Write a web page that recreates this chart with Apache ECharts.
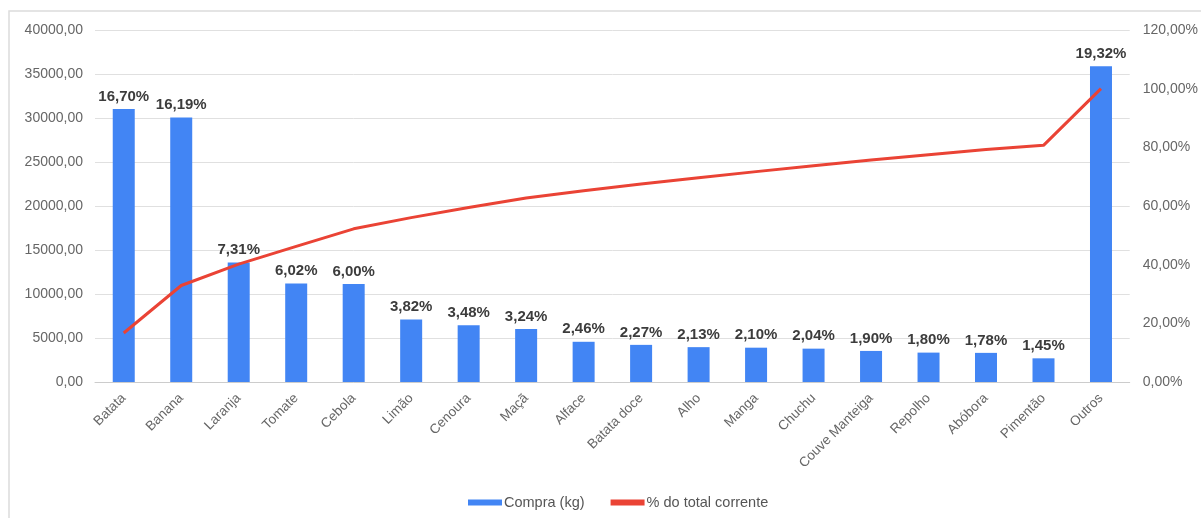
<!DOCTYPE html>
<html>
<head>
<meta charset="utf-8">
<script src="https://cdn.jsdelivr.net/npm/echarts@6/dist/echarts.min.js"></script>
<style>
html,body{margin:0;padding:0;background:#fff;}
#c{width:1201px;height:518px;}
</style>
</head>
<body>
<div id="c"></div>
<script>
const categories = ["Batata","Banana","Laranja","Tomate","Cebola","Limão","Cenoura","Maçã","Alface","Batata doce","Alho","Manga","Chuchu","Couve Manteiga","Repolho","Abóbora","Pimentão","Outros"];
const compraKg = [31010,30060,13570,11180,11140,7090,6460,6020,4570,4220,3960,3900,3790,3530,3340,3310,2690,35880];
const sharePct = [16.70,16.19,7.31,6.02,6.00,3.82,3.48,3.24,2.46,2.27,2.13,2.10,2.04,1.90,1.80,1.78,1.45,19.32];
const cumulativePct = [16.70,32.89,40.20,46.22,52.22,56.04,59.52,62.76,65.22,67.49,69.62,71.72,73.76,75.66,77.46,79.24,80.69,100.00];

const fmt = (v, d) => v.toFixed(d).replace('.', ',');
const chart = echarts.init(document.getElementById('c'), null, {renderer:'canvas'});
chart.setOption({
  animation:false,
  textStyle:{fontFamily:'Liberation Sans, Arial, sans-serif'},
  graphic:[{type:'rect', shape:{x:9,y:11,width:1400,height:700}, style:{fill:'none', stroke:'#dcdcdc', lineWidth:1.5}, silent:true, z:-1}],
  grid:{left:95,right:71,top:30,bottom:136},
  legend:{
    bottom:3, left:463, itemGap:26, itemWidth:34, itemHeight:6,
    textStyle:{color:'#555', fontSize:14.5, padding:[0,0,0,-3]},
    data:[{name:'Compra (kg)', icon:'rect'},{name:'% do total corrente', icon:'rect'}]
  },
  xAxis:{
    type:'category', data:categories,
    axisLine:{lineStyle:{color:'#cccccc'}},
    axisTick:{show:false},
    axisLabel:{rotate:45, color:'#666', fontSize:13.5, interval:0, margin:14}
  },
  yAxis:[
    {type:'value', min:0, max:40000, interval:5000,
     axisLabel:{color:'#666', fontSize:14, margin:12, formatter:v=>fmt(v,2)},
     splitLine:{lineStyle:{color:'#e0e0e0'}}, axisLine:{show:false}, axisTick:{show:false}},
    {type:'value', min:0, max:120, interval:20,
     axisLabel:{color:'#666', fontSize:14, margin:13, formatter:v=>fmt(v,2)+'%'},
     splitLine:{show:false}, axisLine:{show:false}, axisTick:{show:false}}
  ],
  series:[
    {name:'Compra (kg)', type:'bar', data:compraKg, barWidth:22, itemStyle:{color:'#4285F4'},
     label:{show:true, position:'top', distance:5, color:'#3c3c3c', fontWeight:'bold', fontSize:15,
       formatter:p=>fmt(sharePct[p.dataIndex],2)+'%'}},
    {name:'% do total corrente', type:'line', yAxisIndex:1, data:cumulativePct, symbol:'none',
     lineStyle:{color:'#EA4335', width:3}, itemStyle:{color:'#EA4335'}}
  ]
});
</script>
</body>
</html>
